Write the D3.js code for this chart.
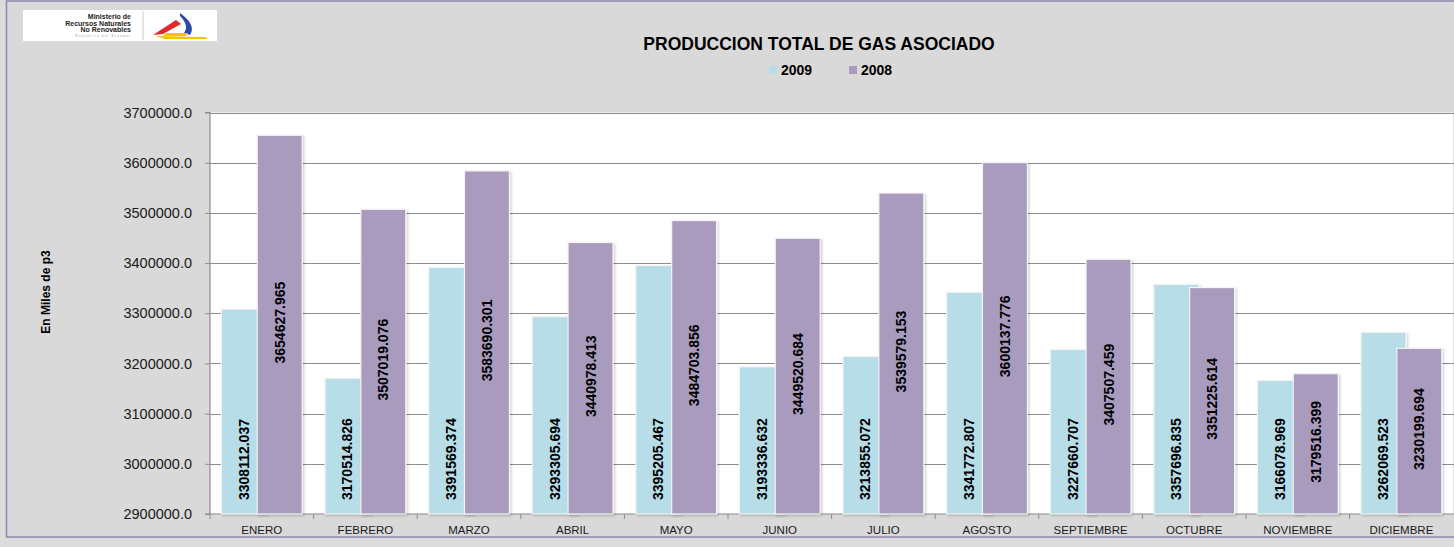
<!DOCTYPE html>
<html><head><meta charset="utf-8">
<script src="https://cdn.jsdelivr.net/npm/d3@7/dist/d3.min.js"></script>
<style>html,body{margin:0;padding:0;background:#ffffff;}svg{display:block;font-family:"Liberation Sans",Arial,sans-serif;}</style>
</head><body><svg id="c" width="1454" height="547"></svg>
<script>
const title = "PRODUCCION TOTAL DE GAS ASOCIADO";
const yTitle = "En Miles de p3";
const months = ["ENERO","FEBRERO","MARZO","ABRIL","MAYO","JUNIO","JULIO","AGOSTO","SEPTIEMBRE","OCTUBRE","NOVIEMBRE","DICIEMBRE"];
const seriesNames = ["2009","2008"];
const values2009 = [3308112.037,3170514.826,3391569.374,3293305.694,3395205.467,3193336.632,3213855.072,3341772.807,3227660.707,3357696.835,3166078.969,3262069.523];
const values2008 = [3654627.965,3507019.076,3583690.301,3440978.413,3484703.856,3449520.684,3539579.153,3600137.776,3407507.459,3351225.614,3179516.399,3230199.694];
const yTicks = [2900000,3000000,3100000,3200000,3300000,3400000,3500000,3600000,3700000];
const colors = {"2009":"#b7dde8","2008":"#a99bbe"};

const svg = d3.select("#c");
const W = 1454, H = 547;
const plot = {left:210, top:112.5, right:1453.2, bottom:514};

// outer background and frame
svg.append("rect").attr("x",0).attr("y",0).attr("width",W).attr("height",H).attr("fill","#dcdcdc");
svg.append("rect").attr("x",6.5).attr("y",1).attr("width",W).attr("height",536).attr("fill","#d9d9d9")
  .attr("stroke","#9085ab").attr("stroke-width",1.5);

const x = d3.scaleBand().domain(months).range([plot.left, plot.right]).paddingInner(0).paddingOuter(0);
const y = d3.scaleLinear().domain([yTicks[0], yTicks[yTicks.length-1]]).range([plot.bottom, plot.top]);
const bw = x.bandwidth();
const barW = bw*0.434;
const offsets = {"2009": -0.39*bw, "2008": -0.044*bw};

// plot area
svg.append("rect").attr("x",plot.left).attr("y",plot.top).attr("width",plot.right-plot.left).attr("height",plot.bottom-plot.top).attr("fill","#ffffff");

// gridlines
svg.append("g").selectAll("line").data(yTicks.slice(1)).join("line")
  .attr("x1",plot.left).attr("x2",W).attr("y1",d=>Math.round(y(d))+0.5).attr("y2",d=>Math.round(y(d))+0.5)
  .attr("stroke","#8c8c8c").attr("stroke-width",1.2);

// y axis
const yAxis = d3.axisLeft(y).tickValues(yTicks).tickSize(5).tickPadding(13).tickFormat(d3.format(".1f"));
const gy = svg.append("g").attr("transform",`translate(${plot.left},0)`).call(yAxis);
gy.select(".domain").attr("stroke","#8c8c8c").attr("stroke-width",1.2).attr("d",`M-5,${plot.top}H0V${plot.bottom}H-5`);
gy.selectAll(".tick line").attr("stroke","#8c8c8c");
gy.selectAll("text").attr("font-size","14.5px").attr("fill","#1a1a1a").attr("font-family","Liberation Sans, Arial, sans-serif");

// x axis
const xAxis = d3.axisBottom(x).tickSize(0).tickPadding(12);
const gx = svg.append("g").attr("transform",`translate(0,${plot.bottom})`).call(xAxis);
gx.select(".domain").attr("stroke","#8c8c8c").attr("stroke-width",1.2).attr("d",`M${plot.left},0H${W}`);
gx.selectAll("text").attr("font-size","11.5px").attr("fill","#1a1a1a").attr("font-family","Liberation Sans, Arial, sans-serif");
svg.append("g").selectAll("line").data(months).join("line")
  .attr("x1",d=>x(d)).attr("x2",d=>x(d)).attr("y1",plot.bottom).attr("y2",plot.bottom+5)
  .attr("stroke","#8c8c8c");

// drop shadow filter
const defs = svg.append("defs");
const f = defs.append("filter").attr("id","sh").attr("x","-10%").attr("y","-10%").attr("width","130%").attr("height","130%");
f.append("feDropShadow").attr("dx",1.5).attr("dy",1.5).attr("stdDeviation",1).attr("flood-color","#000").attr("flood-opacity",0.18);

const series = [
  {name:"2009", values:values2009},
  {name:"2008", values:values2008}
];

const bars = svg.append("g");
series.forEach(s=>{
  bars.append("g").selectAll("rect").data(s.values.map((v,i)=>({m:months[i],v}))).join("rect")
    .attr("x",d=>x(d.m)+bw/2+offsets[s.name]).attr("width",barW)
    .attr("y",d=>y(d.v)).attr("height",d=>plot.bottom-y(d.v))
    .attr("fill",colors[s.name]).attr("stroke","#f4f4f4").attr("stroke-width",1.2)
    .attr("filter","url(#sh)");
});

// labels
const fmt = d3.format(".3f");
const lab = svg.append("g").attr("font-size","14px").attr("font-weight","bold").attr("fill","#000");
lab.selectAll("text.l9").data(values2009.map((v,i)=>({m:months[i],v}))).join("text")
  .attr("transform",d=>`translate(${x(d.m)+bw/2+offsets["2009"]+barW/2+5},${plot.bottom-14}) rotate(-90)`)
  .attr("text-anchor","start").text(d=>fmt(d.v));
lab.selectAll("text.l8").data(values2008.map((v,i)=>({m:months[i],v}))).join("text")
  .attr("transform",d=>`translate(${x(d.m)+bw/2+offsets["2008"]+barW/2+5},${(y(d.v)+plot.bottom)/2-2}) rotate(-90)`)
  .attr("text-anchor","middle").text(d=>fmt(d.v));

// title
svg.append("text").attr("x",819).attr("y",50).attr("text-anchor","middle")
  .attr("font-size","17.5px").attr("font-weight","bold").attr("fill","#000").text(title);

// legend
const legX = [769, 849];
series.forEach((s,i)=>{
  svg.append("rect").attr("x",legX[i]).attr("y",66).attr("width",8).attr("height",8).attr("fill",colors[s.name]);
  svg.append("text").attr("x",legX[i]+12).attr("y",75).attr("font-size","14px").attr("font-weight","bold").attr("fill","#000").text(s.name);
});

// y title
svg.append("text").attr("transform","translate(50,292) rotate(-90)").attr("text-anchor","middle")
  .attr("font-size","12px").attr("font-weight","bold").attr("fill","#000").text(yTitle);

// logo
const logo = svg.append("g");
logo.append("rect").attr("x",23).attr("y",10).attr("width",194).attr("height",31).attr("fill","#ffffff");
logo.append("line").attr("x1",143).attr("x2",143).attr("y1",11).attr("y2",40).attr("stroke","#cccccc");
const lt = logo.append("g").attr("font-size","7px").attr("font-weight","bold").attr("fill","#222").attr("text-anchor","end");
lt.append("text").attr("x",131).attr("y",19).text("Ministerio de");
lt.append("text").attr("x",131).attr("y",25.5).text("Recursos Naturales");
lt.append("text").attr("x",131).attr("y",32).text("No Renovables");
logo.append("text").attr("x",131).attr("y",36.5).attr("text-anchor","end").attr("font-size","3px").attr("fill","#999").attr("letter-spacing","1.2").text("Republica del Ecuador");
logo.append("path").attr("d","M153,35 L176,20 L181,24 L163,34 Z").attr("fill","#e0282e");
logo.append("path").attr("d","M180,13 C190,20 195,28 190,35 L184,33 C188,28 186,22 180,16 Z").attr("fill","#2b4aa0");
logo.append("path").attr("d","M155,36 L205,37 L208,39 L165,39 Z").attr("fill","#f5c400");
logo.append("path").attr("d","M166,33 L188,33 L186,36 L163,36 Z").attr("fill","#f5c400");
</script></body></html>
